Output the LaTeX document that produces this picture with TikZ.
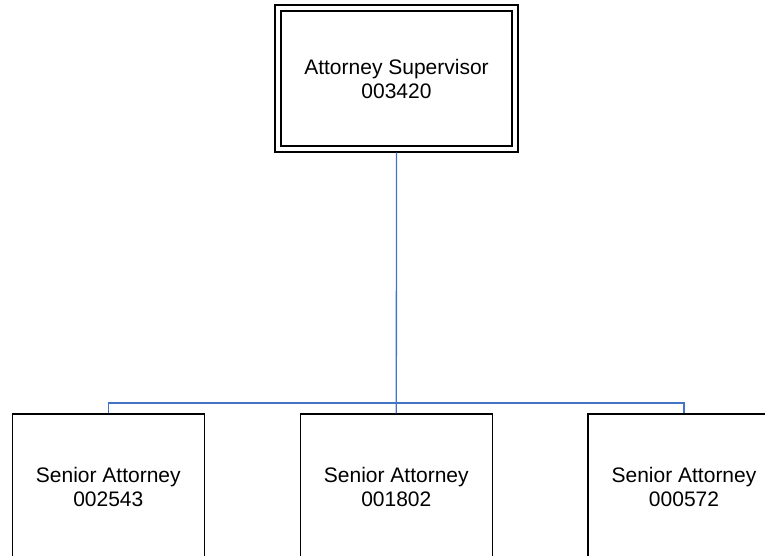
\documentclass[tikz,border=0pt]{standalone}
\usepackage{fontspec}
\setmainfont{Liberation Sans}
\begin{document}
\begin{tikzpicture}[x=1pt,y=-1pt,
  every node/.style={font=\fontsize{21}{24}\selectfont, align=center, inner sep=0pt},
  headbox/.style={draw=black, line width=1.3pt, double=white, double distance=4.7pt,
    minimum width=237pt, minimum height=141pt, outer sep=3.6pt},
  staffbox/.style={draw=black, line width=1.3pt, minimum width=192pt, minimum height=146pt,
    outer sep=0.65pt},
  conn/.style={draw={rgb,255:red,68;green,114;blue,196}, line width=1.3pt}]
  \useasboundingbox (0,0) rectangle (765,556);
  \clip (0,0) rectangle (765,556);

  % supervisor
  \node[headbox] (sup) at (396.5,78.5) {Attorney Supervisor\\003420};

  % senior attorneys
  \node[staffbox] (a1) at (108.3,487) {Senior Attorney\\002543};
  \node[staffbox] (a2) at (396.3,487) {Senior Attorney\\001802};
  \node[staffbox] (a3) at (684,487)   {Senior Attorney\\000572};

  % reporting lines
  \coordinate (bus) at (396.3,403);
  \draw[conn] (sup.south) -- (a2.north);
  \draw[conn] (a1.north) |- (bus) -| (a3.north);
\end{tikzpicture}
\end{document}
